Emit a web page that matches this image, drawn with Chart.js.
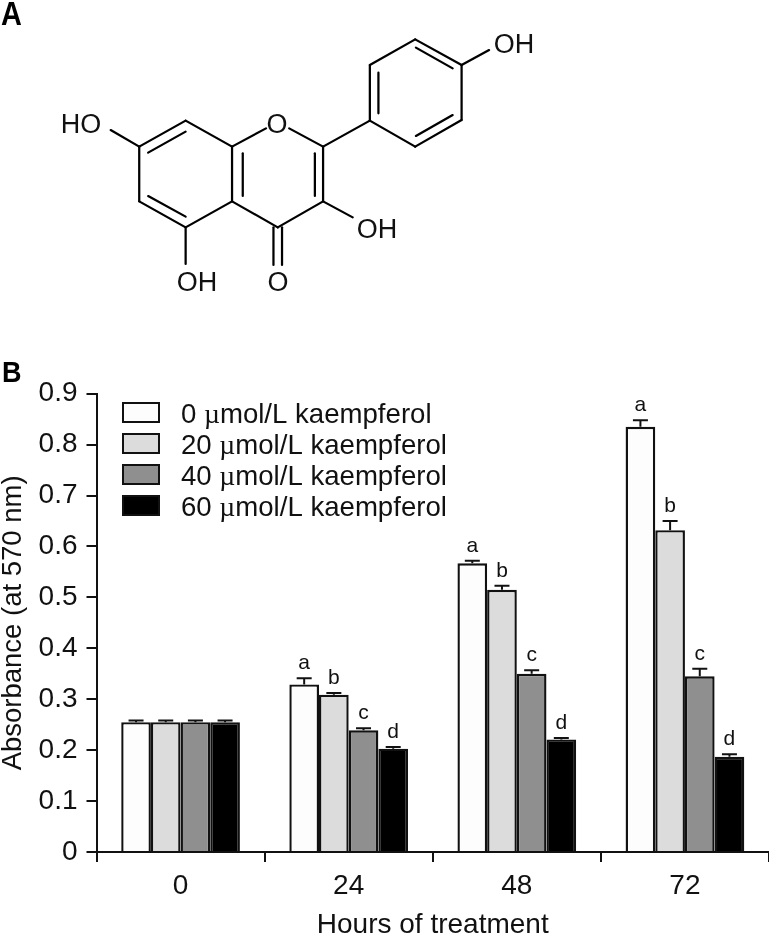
<!DOCTYPE html>
<html>
<head>
<meta charset="utf-8">
<title>Kaempferol absorbance</title>
<script src="https://cdn.jsdelivr.net/npm/chart.js@4"></script>
<style>
html,body{margin:0;padding:0;background:#fff;width:769px;height:935px;overflow:hidden}
#wrap{position:relative;width:769px;height:935px}
#c{position:absolute;left:0;top:0}
#mol{position:absolute;left:0;top:0}
#mol line{stroke:#000;stroke-width:6.3;stroke-linecap:round}
#mol text{font-family:"Liberation Sans",Arial,sans-serif;font-size:27px;fill:#111;text-anchor:middle}
#mol text.p{font-weight:bold;text-anchor:start;fill:#000}
</style>
</head>
<body>
<div id="wrap">
<canvas id="c" width="769" height="935"></canvas>
<svg id="mol" width="769" height="330" viewBox="0 0 769 330">
<text class="p" transform="translate(1,25) scale(0.85,1)" style="font-size:34px">A</text>
<g transform="scale(0.357,0.33333)">
<line x1="390" y1="440" x2="520" y2="362"/><line x1="520" y1="362" x2="650" y2="440"/>
<line x1="650" y1="440" x2="650" y2="604"/><line x1="650" y1="604" x2="520" y2="682"/>
<line x1="520" y1="682" x2="390" y2="604"/><line x1="390" y1="604" x2="390" y2="440"/>
<line x1="650" y1="440" x2="745" y2="385"/><line x1="810" y1="385" x2="905" y2="440"/>
<line x1="905" y1="440" x2="905" y2="604"/><line x1="905" y1="604" x2="778" y2="682"/>
<line x1="778" y1="682" x2="650" y2="604"/>
<line x1="905" y1="440" x2="1036" y2="362"/>
<line x1="1036" y1="362" x2="1036" y2="195"/><line x1="1036" y1="195" x2="1163" y2="118"/>
<line x1="1163" y1="118" x2="1293" y2="195"/><line x1="1293" y1="195" x2="1293" y2="360"/>
<line x1="1293" y1="360" x2="1163" y2="440"/><line x1="1163" y1="440" x2="1036" y2="362"/>
<line x1="1293" y1="195" x2="1370" y2="150"/><line x1="390" y1="440" x2="310" y2="390"/>
<line x1="905" y1="604" x2="988" y2="652"/><line x1="520" y1="682" x2="520" y2="792"/>
<line x1="766" y1="682" x2="766" y2="795"/><line x1="790" y1="682" x2="790" y2="795"/>
<line x1="415" y1="458" x2="520" y2="395"/><line x1="415" y1="588" x2="520" y2="650"/>
<line x1="680" y1="460" x2="680" y2="588"/><line x1="882" y1="460" x2="882" y2="588"/>
<line x1="1060" y1="218" x2="1060" y2="340"/><line x1="1165" y1="143" x2="1268" y2="205"/>
<line x1="1165" y1="408" x2="1268" y2="345"/>
</g>
<text x="514" y="53">OH</text>
<text x="81" y="133">HO</text>
<text x="277" y="133">O</text>
<text x="377" y="238">OH</text>
<text x="197" y="291">OH</text>
<text x="278" y="291">O</text>
</svg>
</div>
<script>
const categories = ['0', '24', '48', '72'];
const seriesLabels = ['0 µmol/L kaempferol', '20 µmol/L kaempferol', '40 µmol/L kaempferol', '60 µmol/L kaempferol'];
const seriesColors = ['#fdfdfd', '#dcdcdc', '#8f8f8f', '#000000'];
const values0 = [0.255, 0.329, 0.567, 0.835];
const values20 = [0.255, 0.309, 0.515, 0.632];
const values40 = [0.255, 0.239, 0.350, 0.345];
const values60 = [0.255, 0.203, 0.221, 0.187];
const errors0 = [0.003, 0.012, 0.005, 0.013];
const errors20 = [0.003, 0.003, 0.008, 0.018];
const errors40 = [0.003, 0.004, 0.007, 0.015];
const errors60 = [0.003, 0.003, 0.003, 0.005];
const letters0 = ['', 'a', 'a', 'a'];
const letters20 = ['', 'b', 'b', 'b'];
const letters40 = ['', 'c', 'c', 'c'];
const letters60 = ['', 'd', 'd', 'd'];
const yTicks = [0, 0.1, 0.2, 0.3, 0.4, 0.5, 0.6, 0.7, 0.8, 0.9];

const allValues = [values0, values20, values40, values60];
const allErrors = [errors0, errors20, errors40, errors60];
const allLetters = [letters0, letters20, letters40, letters60];
const FONT = '"Liberation Sans", Arial, sans-serif';
const INK = '#111';

const errorBars = {
  id: 'errorBars',
  afterDatasetsDraw(chart) {
    const {ctx, scales: {y}} = chart;
    ctx.save();
    chart.data.datasets.forEach((ds, i) => {
      chart.getDatasetMeta(i).data.forEach((bar, j) => {
        const top = y.getPixelForValue(allValues[i][j] + allErrors[i][j]);
        const base = y.getPixelForValue(allValues[i][j]);
        ctx.strokeStyle = '#111';
        ctx.lineWidth = 2;
        ctx.beginPath();
        ctx.moveTo(bar.x, base); ctx.lineTo(bar.x, top);
        ctx.moveTo(bar.x - 7.5, top); ctx.lineTo(bar.x + 7.5, top);
        ctx.stroke();
        const t = allLetters[i][j];
        if (t) {
          ctx.fillStyle = INK;
          ctx.font = '21px ' + FONT;
          ctx.textAlign = 'center';
          ctx.textBaseline = 'alphabetic';
          ctx.fillText(t, bar.x, top - 9);
        }
      });
    });
    ctx.restore();
  }
};

const keyBox = {
  id: 'keyBox',
  afterDraw(chart) {
    const {ctx} = chart;
    ctx.save();
    const tops = [403, 434, 465, 496];
    chart.data.datasets.forEach((ds, i) => {
      ctx.fillStyle = ds.backgroundColor;
      ctx.strokeStyle = '#111';
      ctx.lineWidth = 2;
      ctx.fillRect(123, tops[i], 36, 19);
      ctx.strokeRect(123, tops[i], 36, 19);
      const parts = ds.label.split('µ');
      let x = 181;
      const base = tops[i] + 20;
      ctx.fillStyle = INK;
      ctx.textAlign = 'left';
      ctx.textBaseline = 'alphabetic';
      ctx.font = '27.6px ' + FONT;
      ctx.fillText(parts[0], x, base);
      x += ctx.measureText(parts[0]).width;
      ctx.font = '27.6px "Liberation Serif", serif';
      ctx.fillText('µ', x, base);
      x += ctx.measureText('µ').width;
      ctx.font = '27.6px ' + FONT;
      ctx.fillText(parts[1], x, base);
    });
    ctx.restore();
  }
};

new Chart(document.getElementById('c'), {
  type: 'bar',
  data: {
    labels: categories,
    datasets: seriesLabels.map((label, i) => ({
      label,
      data: allValues[i],
      backgroundColor: seriesColors[i],
      borderColor: '#111',
      borderWidth: 2.4,
      barPercentage: 1,
      categoryPercentage: 0.706
    }))
  },
  options: {
    responsive: false,
    animation: false,
    layout: {padding: {top: 393.7, right: 0, left: 0, bottom: 0}},
    plugins: {legend: {display: false}, tooltip: {enabled: false}},
    scales: {
      x: {
        afterFit(s) { s.height = 83; },
        border: {color: '#111', width: 2},
        grid: {drawOnChartArea: false, drawTicks: true, tickLength: 10, color: '#111', lineWidth: 2},
        ticks: {color: INK, font: {family: FONT, size: 28}, padding: 7, maxRotation: 0},
        title: {display: true, text: 'Hours of treatment', color: INK, font: {family: FONT, size: 28, lineHeight: 1}, padding: {top: 0, bottom: -4}}
      },
      y: {
        min: 0, max: 0.9,
        afterFit(s) { s.width = 96.5; },
        afterBuildTicks(s) { s.ticks = yTicks.map(v => ({value: v})); },
        border: {color: '#111', width: 2},
        grid: {drawOnChartArea: false, drawTicks: true, tickLength: 10, color: '#111', lineWidth: 2},
        ticks: {color: INK, font: {family: FONT, size: 28}, padding: 9, callback: v => v === 0 ? '0' : v.toFixed(1)},
        title: {display: true, text: 'Absorbance (at 570 nm)', color: INK, font: {family: FONT, size: 27.5, lineHeight: 1}, padding: {top: 0, bottom: 0}}
      }
    }
  },
  plugins: [errorBars, keyBox, {
    id: 'panelB',
    afterDraw(chart) {
      const {ctx} = chart;
      ctx.save();
      ctx.fillStyle = '#000';
      ctx.font = 'bold 30px ' + FONT;
      ctx.translate(2, 382);
      ctx.scale(0.9, 1);
      ctx.fillText('B', 0, 0);
      ctx.restore();
    }
  }]
});
</script>
</body>
</html>
